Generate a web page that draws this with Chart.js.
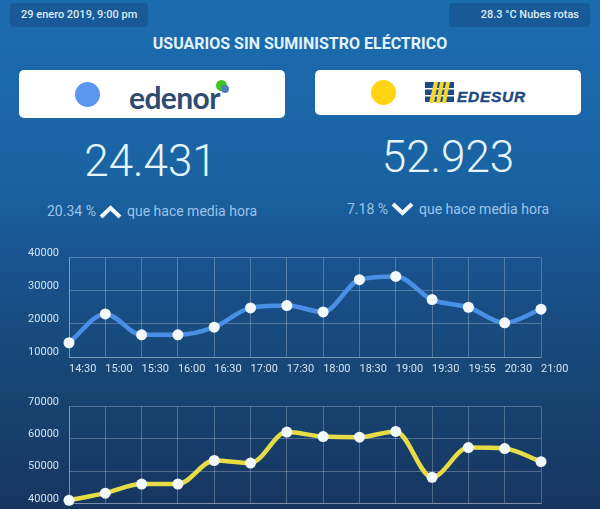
<!DOCTYPE html>
<html>
<head>
<meta charset="utf-8">
<script src="https://cdn.jsdelivr.net/npm/chart.js@4/dist/chart.umd.min.js"></script>
<style>
    html, body { margin: 0; padding: 0; }
    body {
        position: relative;
        width: 600px;
        height: 509px;
        overflow: hidden;
        font-family: Roboto, sans-serif;
        background: linear-gradient(to bottom, #1b6cb0 0%, #1a63a3 35%, #195490 50%, #174370 78%, #163660 100%);
    }
    .abs { position: absolute; white-space: nowrap; }
    .pill {
        top: 3px; height: 24px; line-height: 24px;
        background: rgba(20, 60, 110, 0.35);
        border-radius: 4px;
        font-size: 11px; font-weight: 500;
        color: #dcecf6;
    }
    .title { left: 0; width: 600px; top: 34px; text-align: center; font-size: 16px; line-height: 19px; font-weight: 700; color: #e2f3fc; }
    .card { top: 70px; background: #fff; border-radius: 5px; width: 266px; }
    .dot { border-radius: 50%; }
    .big { font-size: 44px; font-weight: 300; color: #e6f5fd; line-height: 50px; text-align: center; }
    .sub { font-size: 14px; color: #9cc4e8; line-height: 16px; }
    canvas { position: absolute; left: 0; }
</style>
</head>
<body>
    <div class="abs pill" style="left:10px;width:138px;text-indent:11px">29 enero 2019, 9:00 pm</div>
    <div class="abs pill" style="left:449px;width:130px;padding-right:11px;text-align:right">28.3 °C Nubes rotas</div>
    <div class="abs title">USUARIOS SIN SUMINISTRO ELÉCTRICO</div>

    <div class="abs card" style="left:19px;height:48px"></div>
    <div class="abs dot" style="left:75px;top:82px;width:25px;height:25px;background:#5b97f1"></div>
    <div class="abs" style="left:129px;top:77px;font:700 30px/40px Lato,sans-serif;color:#2f4c70;letter-spacing:-0.6px">edenor</div>
    <div class="abs dot" style="left:216px;top:80px;width:11px;height:11px;background:#3fc424"></div>
    <div class="abs dot" style="left:221px;top:85px;width:8px;height:8px;background:#4f7dbd"></div>

    <div class="abs card" style="left:315px;height:45px"></div>
    <div class="abs dot" style="left:371px;top:80px;width:25px;height:25px;background:#ffd415"></div>
    <svg class="abs" style="left:425px;top:82px" width="29" height="21" viewBox="0 0 29 21">
        <rect x="0" y="0" width="29" height="20" fill="#1d4a85"/>
        <rect x="0" y="6" width="29" height="1.5" fill="#fff"/>
        <rect x="0" y="13" width="29" height="1.5" fill="#fff"/>
        <polygon points="9,0 13,0 9,21 4,21" fill="#f6d52e"/>
        <polygon points="15,0 19,0 15,21 11,21" fill="#f6d52e"/>
        <polygon points="21,0 25,0 21,21 17,21" fill="#f6d52e"/>
    </svg>
    <div class="abs" style="left:457px;top:88px;font:italic 700 15.5px/18px 'Liberation Sans',sans-serif;color:#1d4a85;letter-spacing:0.7px;-webkit-text-stroke:0.4px #1d4a85">EDESUR</div>

    <div class="abs big" style="left:19px;width:263px;top:136px">24.431</div>
    <div class="abs big" style="left:315px;width:266px;top:132px">52.923</div>

    <div class="abs sub" style="left:47px;top:203px">20.34 %</div>
    <svg class="abs" style="left:99px;top:204px" width="23" height="16" viewBox="0 0 23 16">
        <polyline points="2,13 11.5,4 21,13" fill="none" stroke="#f2f8fc" stroke-width="4"/>
    </svg>
    <div class="abs sub" style="left:127px;top:203px">que hace media hora</div>

    <div class="abs sub" style="left:347px;top:201px">7.18 %</div>
    <svg class="abs" style="left:391px;top:201px" width="23" height="16" viewBox="0 0 23 16">
        <polyline points="2,3 11.5,12 21,3" fill="none" stroke="#f2f8fc" stroke-width="4"/>
    </svg>
    <div class="abs sub" style="left:419px;top:201px">que hace media hora</div>

    <canvas id="edenorChart" width="600" height="140" style="top:240px"></canvas>
    <canvas id="edesurChart" width="600" height="120" style="top:389px"></canvas>

<script>
const timeLabels = ['14:30', '15:00', '15:30', '16:00', '16:30', '17:00', '17:30', '18:00', '18:30', '19:00', '19:30', '19:55', '20:30', '21:00'];
const edenorValues = [14300, 23000, 16700, 16700, 19000, 24800, 25500, 23600, 33300, 34300, 27300, 25000, 20300, 24431];
const edesurValues = [41000, 43200, 46000, 46000, 53300, 52500, 62100, 60700, 60500, 62300, 48100, 57300, 57000, 52923];

const gridColor = 'rgba(255, 255, 255, 0.25)';
const tickColor = '#d3e3f0';

// Builds one of the two line charts, they only differ in colour and range
function makeChart(id, values, color, min, max, showTimes) {
    return new Chart(document.getElementById(id), {
        type: 'line',
        data: {
            labels: timeLabels,
            datasets: [{
                data: values,
                borderColor: color,
                borderWidth: 4.5,
                cubicInterpolationMode: 'monotone',
                pointRadius: 5.5,
                pointBorderWidth: 0,
                pointBackgroundColor: '#f2f8fc',
                clip: false
            }]
        },
        options: {
            responsive: false,
            animation: false,
            layout: { padding: { left: 0, right: 59, top: 17.5, bottom: 0 } },
            plugins: { legend: { display: false }, tooltip: { enabled: false } },
            scales: {
                x: {
                    display: true,
                    grid: { color: gridColor, drawTicks: false },
                    border: { color: gridColor },
                    ticks: {
                        display: showTimes,
                        color: tickColor,
                        font: { family: 'Roboto', size: 11 },
                        align: 'start',
                        padding: 6,
                        autoSkip: false,
                        maxRotation: 0
                    },
                    afterFit: (scale) => {
                        scale.height = showTimes ? 23 : 2;
                        scale.paddingLeft = 0;
                        scale.paddingRight = 0;
                    }
                },
                y: {
                    min: min,
                    max: max,
                    grid: { color: gridColor, drawTicks: false },
                    border: { color: gridColor },
                    ticks: {
                        stepSize: 10000,
                        color: tickColor,
                        padding: 10,
                        font: { family: 'Roboto', size: 11, lineHeight: '9px' },
                        // empty second line lifts the label above its grid line
                        callback: (value) => [String(value), '']
                    },
                    afterFit: (scale) => {
                        scale.width = 69;
                        scale.paddingTop = 0;
                        scale.paddingBottom = 0;
                    }
                }
            }
        }
    });
}

makeChart('edenorChart', edenorValues, '#4a8fe6', 10000, 40000, true);
makeChart('edesurChart', edesurValues, '#e6dc46', 40000, 70000, false);
</script>
</body>
</html>
